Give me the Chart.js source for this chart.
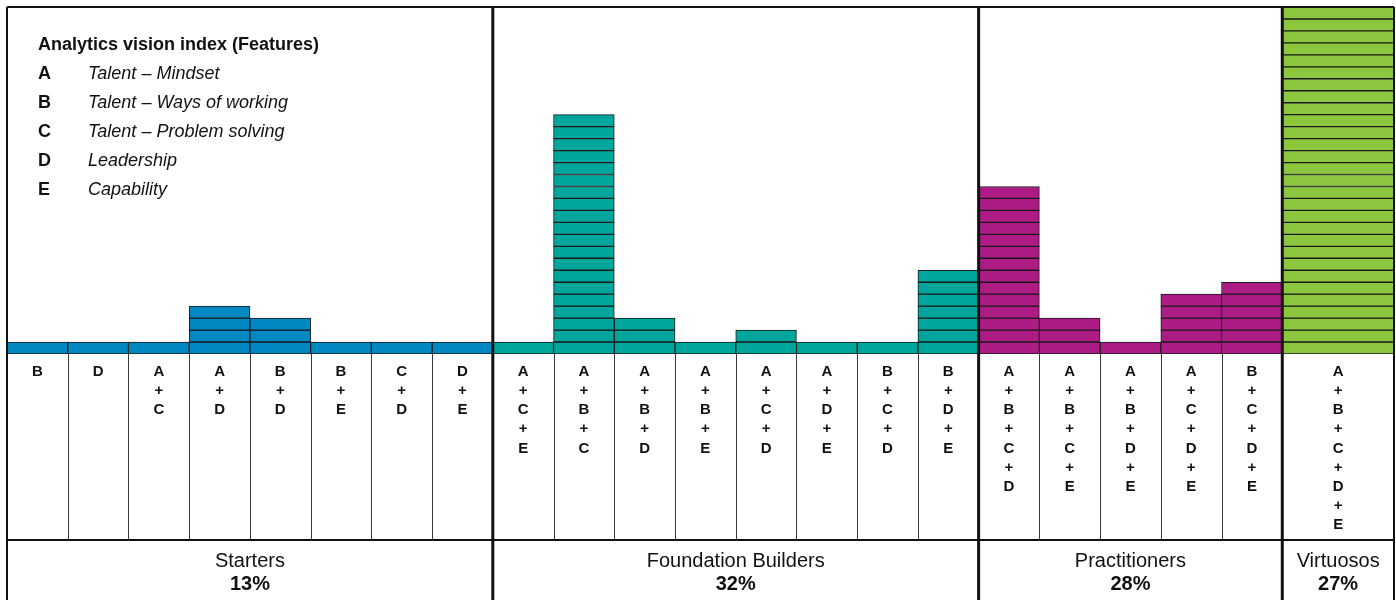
<!DOCTYPE html>
<html>
<head>
<meta charset="utf-8">
<script src="https://cdn.jsdelivr.net/npm/chart.js@4.4.1/dist/chart.umd.min.js"></script>
<style>
  html, body { margin: 0; padding: 0; background: #fff; }
  canvas { display: block; }
</style>
</head>
<body>
<canvas id="unitChart" width="1396" height="600"></canvas>
<script>
// groups and their shares
const groupNames = ["Starters", "Foundation Builders", "Practitioners", "Virtuosos"];
const groupShares = ["13%", "32%", "28%", "27%"];
const groupColors = ["#0088c2", "#00a69c", "#ad1b85", "#8cc63f"];

// feature combinations per group, and how many units each one has
const starterCombos = ["B", "D", "A+C", "A+D", "B+D", "B+E", "C+D", "D+E"];
const starterCounts = [1, 1, 1, 4, 3, 1, 1, 1];
const builderCombos = ["A+C+E", "A+B+C", "A+B+D", "A+B+E", "A+C+D", "A+D+E", "B+C+D", "B+D+E"];
const builderCounts = [1, 20, 3, 1, 2, 1, 1, 7];
const practitionerCombos = ["A+B+C+D", "A+B+C+E", "A+B+D+E", "A+C+D+E", "B+C+D+E"];
const practitionerCounts = [14, 3, 1, 5, 6];
const virtuosoCombos = ["A+B+C+D+E"];
const virtuosoCounts = [29];

// legend
const featureKeys = ["A", "B", "C", "D", "E"];
const featureNames = ["Talent – Mindset", "Talent – Ways of working", "Talent – Problem solving", "Leadership", "Capability"];
const legendTitle = "Analytics vision index (Features)";

const ROWS = 29;           // unit levels
const VIRT_SPAN = 1.84;    // virtuosos column is wider than the others

const rowLabels = Array.from({ length: ROWS }, (_, i) => String(i + 1));

// flatten into columns
const groupCombos = [starterCombos, builderCombos, practitionerCombos, virtuosoCombos];
const groupCounts = [starterCounts, builderCounts, practitionerCounts, virtuosoCounts];
const columns = [];
let pos = 0;
groupCombos.forEach((combos, g) => {
  combos.forEach((combo, i) => {
    const span = g === 3 ? VIRT_SPAN : 1;
    columns.push({ group: g, combo, count: groupCounts[g][i], start: pos, end: pos + span });
    pos += span;
  });
});
const xMax = pos;

// one dataset per column, one floating bar per unit row
const datasets = columns.map((col) => ({
  label: col.combo,
  data: rowLabels.map((_, r) => (r < col.count ? [col.start, col.end] : null)),
  backgroundColor: groupColors[col.group],
  borderColor: "#1a1a1a",
  borderWidth: 1,
  borderSkipped: false,
  grouped: false,
  barPercentage: 1,
  categoryPercentage: 1,
}));

const FONT = "'Liberation Sans', Arial, Helvetica, sans-serif";

const tablePlugin = {
  id: "table",
  afterDatasetsDraw(chart) {
    const { ctx, chartArea } = chart;
    const xs = chart.scales.x;
    const top = chartArea.top, bottom = chartArea.bottom;
    const left = chartArea.left, right = chartArea.right;
    const H = chart.height;
    const rowLine = 540;

    ctx.save();

    // thin column separators in the label area
    ctx.lineWidth = 1;
    ctx.strokeStyle = "#3a3a3a";
    columns.forEach((col, i) => {
      if (i === 0) return;
      if (columns[i - 1].group !== col.group) return;
      const x = Math.round(xs.getPixelForValue(col.start)) + 0.5;
      ctx.beginPath();
      ctx.moveTo(x, bottom);
      ctx.lineTo(x, rowLine);
      ctx.stroke();
    });

    // frame
    ctx.strokeStyle = "#111";
    ctx.lineWidth = 2;
    ctx.beginPath();
    ctx.moveTo(left, top); ctx.lineTo(right, top);
    ctx.moveTo(left, top); ctx.lineTo(left, H);
    ctx.moveTo(right, top); ctx.lineTo(right, H);
    ctx.moveTo(left, rowLine); ctx.lineTo(right, rowLine);
    ctx.stroke();

    // group separators over the full height
    ctx.lineWidth = 3;
    columns.forEach((col, i) => {
      if (i === 0 || columns[i - 1].group === col.group) return;
      const x = xs.getPixelForValue(col.start);
      ctx.beginPath();
      ctx.moveTo(x, top);
      ctx.lineTo(x, H);
      ctx.stroke();
    });

    // combination labels, stacked vertically
    ctx.fillStyle = "#111";
    ctx.textAlign = "center";
    ctx.textBaseline = "middle";
    ctx.font = "bold 15px " + FONT;
    columns.forEach((col) => {
      const cx = xs.getPixelForValue((col.start + col.end) / 2);
      const parts = col.combo.split("+");
      let k = 0;
      parts.forEach((p, j) => {
        ctx.fillText(p, cx, bottom + 18 + k * 19.1);
        k++;
        if (j < parts.length - 1) {
          ctx.fillText("+", cx, bottom + 18 + k * 19.1);
          k++;
        }
      });
    });

    // group names and shares
    groupNames.forEach((name, g) => {
      const cols = columns.filter((c) => c.group === g);
      const cx = xs.getPixelForValue((cols[0].start + cols[cols.length - 1].end) / 2);
      ctx.font = "20px " + FONT;
      ctx.fillText(name, cx, 561);
      ctx.font = "bold 20px " + FONT;
      ctx.fillText(groupShares[g], cx, 584);
    });

    // feature legend
    ctx.textAlign = "left";
    ctx.font = "bold 18px " + FONT;
    ctx.fillText(legendTitle, 38, 45);
    featureKeys.forEach((key, i) => {
      const y = 74 + i * 29;
      ctx.font = "bold 18px " + FONT;
      ctx.fillText(key, 38, y);
      ctx.font = "italic 18px " + FONT;
      ctx.fillText(featureNames[i], 88, y);
    });

    ctx.restore();
  },
};

new Chart(document.getElementById("unitChart"), {
  type: "bar",
  data: { labels: rowLabels, datasets },
  options: {
    indexAxis: "y",
    responsive: false,
    animation: false,
    layout: { padding: { left: 7, top: 7, right: 2, bottom: 246 } },
    scales: {
      x: { type: "linear", min: 0, max: xMax, display: false },
      y: { type: "category", reverse: true, display: false },
    },
    plugins: {
      legend: { display: false },
      tooltip: { enabled: false },
    },
  },
  plugins: [tablePlugin],
});
</script>
</body>
</html>
